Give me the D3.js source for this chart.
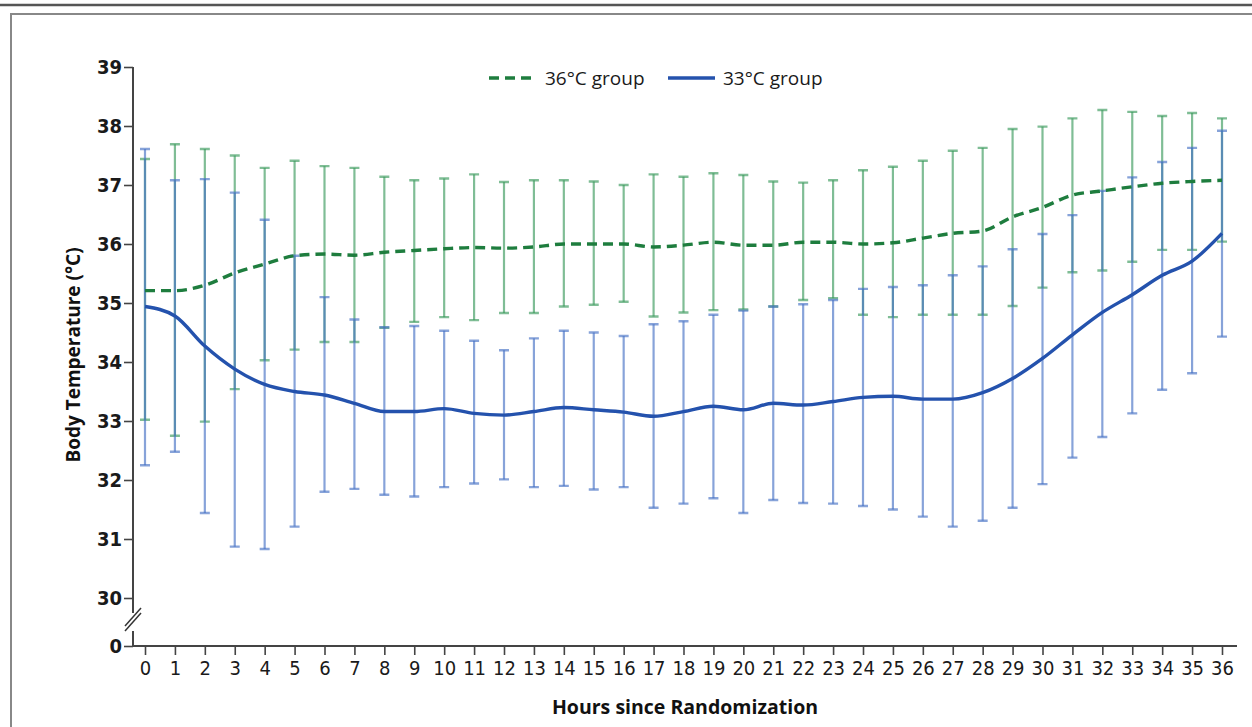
<!DOCTYPE html>
<html>
<head>
<meta charset="utf-8">
<script src="https://cdn.jsdelivr.net/npm/d3@7/dist/d3.min.js"></script>
<style>
  html, body { margin: 0; padding: 0; background: #fff; }
  svg { display: block; }
  .tick text { font-family: "DejaVu Sans Condensed", "DejaVu Sans", sans-serif; fill: #1a1a1a; }
  .label { font-family: "Open Sans", "DejaVu Sans", sans-serif; font-weight: bold; fill: #111; }
  .legend text { font-family: "Open Sans", "DejaVu Sans", sans-serif; font-size: 19px; fill: #1a1a1a; }
</style>
</head>
<body>
<div id="chart"></div>
<script>
// hours since randomization
const hours = d3.range(0, 37);

// 36°C group
const mean36 = [35.21, 35.21, 35.30, 35.51, 35.66, 35.80, 35.83, 35.81, 35.86, 35.89, 35.92, 35.94, 35.93,
  35.95, 36.00, 36.00, 36.00, 35.95, 35.98, 36.03, 35.98, 35.98, 36.03, 36.03, 36.00, 36.02, 36.10,
  36.18, 36.22, 36.46, 36.62, 36.83, 36.90, 36.97, 37.03, 37.06, 37.08];
const upper36 = [37.44, 37.69, 37.61, 37.50, 37.29, 37.41, 37.32, 37.29, 37.14, 37.08, 37.11, 37.18, 37.05,
  37.08, 37.08, 37.06, 37.00, 37.18, 37.14, 37.20, 37.17, 37.06, 37.04, 37.08, 37.25, 37.31, 37.41,
  37.58, 37.63, 37.95, 37.99, 38.13, 38.27, 38.24, 38.17, 38.22, 38.13];
const lower36 = [33.02, 32.75, 32.99, 33.54, 34.03, 34.21, 34.34, 34.34, 34.58, 34.68, 34.76, 34.71, 34.83,
  34.83, 34.94, 34.97, 35.02, 34.77, 34.84, 34.88, 34.89, 34.94, 35.05, 35.08, 34.80, 34.76, 34.80,
  34.80, 34.80, 34.95, 35.26, 35.52, 35.55, 35.70, 35.90, 35.90, 36.04];

// 33°C group
const mean33 = [34.94, 34.78, 34.27, 33.88, 33.62, 33.50, 33.44, 33.30, 33.16, 33.16, 33.21, 33.13, 33.10,
  33.16, 33.23, 33.19, 33.15, 33.08, 33.16, 33.25, 33.19, 33.30, 33.27, 33.33, 33.40, 33.42, 33.37,
  33.37, 33.48, 33.72, 34.06, 34.46, 34.84, 35.14, 35.47, 35.71, 36.18];
const upper33 = [37.61, 37.08, 37.10, 36.87, 36.41, 35.80, 35.10, 34.72, 34.59, 34.61, 34.53, 34.36, 34.20,
  34.40, 34.53, 34.50, 34.44, 34.64, 34.69, 34.80, 34.87, 34.94, 34.98, 35.05, 35.24, 35.27, 35.30,
  35.47, 35.62, 35.91, 36.17, 36.49, 36.90, 37.13, 37.39, 37.63, 37.92];
const lower33 = [32.25, 32.48, 31.44, 30.87, 30.83, 31.21, 31.80, 31.85, 31.75, 31.72, 31.88, 31.94, 32.01,
  31.88, 31.90, 31.84, 31.88, 31.53, 31.60, 31.69, 31.44, 31.66, 31.61, 31.60, 31.56, 31.50, 31.38,
  31.21, 31.31, 31.53, 31.93, 32.38, 32.73, 33.13, 33.53, 33.81, 34.43];

const yTicks = [0, 30, 31, 32, 33, 34, 35, 36, 37, 38, 39];
const legendLabels = ["36°C group", "33°C group"];

const colors = {
  green: "#1e7d3e", greenBar: "#3a9a5c",
  blue: "#2452ad", blueBar: "#4672c4"
};

const width = 1252, height = 727;

const svg = d3.select("#chart").append("svg")
  .attr("width", width)
  .attr("height", height);

// frame
svg.append("line").attr("x1", 0).attr("x2", width).attr("y1", 5).attr("y2", 5)
  .attr("stroke", "#555").attr("stroke-width", 2.5);
svg.append("path")
  .attr("d", "M11," + height + "V14H" + width)
  .attr("fill", "none").attr("stroke", "#888").attr("stroke-width", 2);

const x = d3.scaleLinear().domain([0, 36]).range([145, 1222]);
// broken axis: 0 sits just below the 30 tick
const y = d3.scaleLinear().domain([0, 30, 39]).range([646, 598, 67]);

const axisX0 = 133;

// y axis
const gy = svg.append("g")
  .attr("transform", "translate(" + axisX0 + ",0)")
  .call(d3.axisLeft(y).tickValues(yTicks).tickSize(9).tickPadding(2).tickFormat(d3.format("d")));
gy.select(".domain").remove();
gy.selectAll(".tick line").attr("stroke", "#444").attr("stroke-width", 1.6);
gy.selectAll(".tick text").style("font-size", "20px").style("font-weight", "600");

gy.append("path")
  .attr("d", "M0," + y(39) + "V613M0,631V646")
  .attr("stroke", "#444").attr("stroke-width", 2).attr("fill", "none");
// break marks
[0, 5].forEach(function (off) {
  gy.append("line")
    .attr("x1", -8).attr("y1", 631 - off)
    .attr("x2", 8).attr("y2", 613 - off)
    .attr("stroke", "#333").attr("stroke-width", 1.5);
});

// x axis
const gx = svg.append("g")
  .attr("transform", "translate(0,646)")
  .call(d3.axisBottom(x).tickValues(hours).tickSize(9).tickPadding(6).tickFormat(d3.format("d")));
gx.select(".domain").remove();
gx.append("line").attr("x1", axisX0).attr("x2", 1237)
  .attr("stroke", "#444").attr("stroke-width", 2);
gx.selectAll(".tick line").attr("stroke", "#444").attr("stroke-width", 1.6);
gx.selectAll(".tick text").style("font-size", "20px");

// axis titles
svg.append("text")
  .classed("label", true)
  .attr("transform", "translate(80,355) rotate(-90)")
  .style("text-anchor", "middle")
  .style("font-size", "19px")
  .text("Body Temperature (°C)");

svg.append("text")
  .classed("label", true)
  .attr("x", 685)
  .attr("y", 714)
  .style("text-anchor", "middle")
  .style("font-size", "19.5px")
  .text("Hours since Randomization");

// error bars
function errorBars(lo, hi, color, cls) {
  const g = svg.append("g").attr("class", cls)
    .attr("stroke", color).attr("stroke-opacity", 0.65).attr("fill", "none");
  hours.forEach(function (h, i) {
    const cx = x(h);
    g.append("path")
      .attr("stroke-width", 2.2)
      .attr("d", "M" + cx + "," + y(hi[i]) + "V" + y(lo[i]));
    g.append("path")
      .attr("stroke-width", 2.4)
      .attr("d", "M" + (cx - 5) + "," + y(hi[i]) + "H" + (cx + 5) +
        "M" + (cx - 5) + "," + y(lo[i]) + "H" + (cx + 5));
  });
}

errorBars(lower36, upper36, colors.greenBar, "bars36");
errorBars(lower33, upper33, colors.blueBar, "bars33");

// mean lines
const line = d3.line()
  .x(function (d) { return x(d[0]); })
  .y(function (d) { return y(d[1]); })
  .curve(d3.curveMonotoneX);

svg.append("path")
  .datum(hours.map(function (h, i) { return [h, mean33[i]]; }))
  .attr("d", line)
  .attr("fill", "none")
  .attr("stroke", colors.blue)
  .attr("stroke-width", 3.4);

svg.append("path")
  .datum(hours.map(function (h, i) { return [h, mean36[i]]; }))
  .attr("d", line)
  .attr("fill", "none")
  .attr("stroke", colors.green)
  .attr("stroke-width", 3.4)
  .attr("stroke-dasharray", "10,6");

// legend
const legend = svg.append("g").attr("class", "legend");
const legendItems = [
  { label: legendLabels[0], color: colors.green, dash: "10,6", x1: 489, x2: 531, tx: 545 },
  { label: legendLabels[1], color: colors.blue, dash: null, x1: 668, x2: 715, tx: 723 }
];
legendItems.forEach(function (d) {
  legend.append("line")
    .attr("x1", d.x1).attr("x2", d.x2).attr("y1", 78).attr("y2", 78)
    .attr("stroke", d.color).attr("stroke-width", 3.4)
    .attr("stroke-dasharray", d.dash);
  legend.append("text")
    .attr("x", d.tx).attr("y", 78)
    .attr("dy", "0.35em")
    .text(d.label);
});
</script>
</body>
</html>
